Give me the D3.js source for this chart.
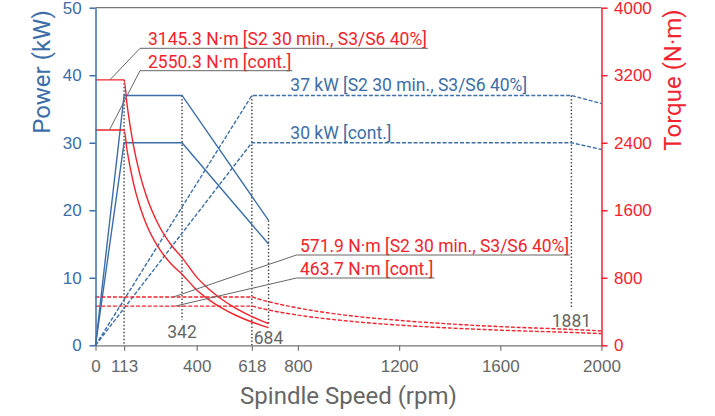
<!DOCTYPE html>
<html>
<head>
<meta charset="utf-8">
<script src="https://cdn.jsdelivr.net/npm/d3@7"></script>
<style>
  body { margin: 0; background: #fff; }
  svg { display: block; font-family: Roboto, "Liberation Sans", sans-serif; }
</style>
</head>
<body>
<svg width="715" height="416"></svg>
<script>
/* power curves (kW), low and high winding */
var rpmLow = [0, 113, 342, 684];
var powerS2Low = [0, 37, 37, 18.5];
var powerContLow = [0, 30, 30, 15];

var rpmHigh = [0, 618, 1881, 2000];
var powerS2High = [0, 37, 37, 35.8];
var powerContHigh = [0, 30, 30, 29.0];

/* torque curves (N·m) */
var rpmTorqueLow = [0, 113, 125, 150, 175, 200, 250, 300, 342, 400, 450, 500, 550, 600, 650, 684];
var torqueS2Low = [3145.3, 3145.3, 2843, 2370, 2031, 1777, 1422, 1185, 1039, 808, 661, 543, 447, 367, 299, 258];
var torqueContLow = [2550.3, 2550.3, 2306, 1921, 1647, 1441, 1153, 961, 843, 655, 536, 441, 362, 297, 242, 209];

var rpmTorqueHigh = [0, 618, 640, 700, 800, 1000, 1200, 1400, 1600, 1881, 2000];
var torqueS2High = [571.9, 571.9, 552, 505, 442, 353, 295, 253, 221, 188, 171];
var torqueContHigh = [463.7, 463.7, 448, 409, 358, 287, 239, 205, 179, 152, 139];

/* axis ticks */
var speedTicks = [0, 113, 400, 618, 800, 1200, 1600, 2000];
var powerTicks = [0, 10, 20, 30, 40, 50];
var torqueTicks = [0, 800, 1600, 2400, 3200, 4000];

/* notes */
var torqueNotes = ["3145.3 N·m [S2 30 min., S3/S6 40%]", "2550.3 N·m [cont.]",
                   "571.9 N·m [S2 30 min., S3/S6 40%]", "463.7 N·m [cont.]"];
var torqueNoteLevel = [3145.3, 2550.3, 571.9, 463.7];
var torqueNoteRpm = [57, 55, 307, 314];
var powerNotes = ["37 kW [S2 30 min., S3/S6 40%]", "30 kW [cont.]"];
var powerNoteLevel = [37, 30];
var powerNoteRpm = 770;

var blue = "#3c6ea8", red = "#f2232d", grey = "#666", dark = "#444";

var svg = d3.select("svg");
var width = +svg.attr("width");
var height = +svg.attr("height");
var margin = {top: 7.7, right: 113.5, bottom: 70.7, left: 95.5};

var x = d3.scaleLinear().domain([0, 2000]).range([margin.left, width - margin.right]);
var yP = d3.scaleLinear().domain([0, 50]).range([height - margin.bottom, margin.top]);
var yT = d3.scaleLinear().domain([0, 4000]).range([height - margin.bottom, margin.top]);

function zip(a, b) { return a.map(function(v, i) { return [v, b[i]]; }); }

var powerLine = d3.line().x(function(d) { return x(d[0]); }).y(function(d) { return yP(d[1]); });
var torqueLine = d3.line().curve(d3.curveMonotoneX)
    .x(function(d) { return x(d[0]); }).y(function(d) { return yT(d[1]); });

/* top frame line */
svg.append("line")
    .attr("x1", x(0)).attr("x2", x(2000))
    .attr("y1", yP(50)).attr("y2", yP(50))
    .attr("stroke", "#777").attr("stroke-width", 1.3);

/* dotted speed markers */
var markers = [
  {rpm: 113, top: yT(torqueS2Low[0]), bottom: yP(0), label: false},
  {rpm: 342, top: yP(powerS2Low[2]), bottom: 320, label: true, base: 337.5},
  {rpm: 618, top: yP(powerS2High[1]), bottom: yP(0), label: false},
  {rpm: 684, top: yP(powerS2Low[3]), bottom: 325, label: true, base: 343.5},
  {rpm: 1881, top: yP(powerS2High[2]), bottom: 309, label: true, base: 326.5}
];
svg.append("g").selectAll("line").data(markers).enter().append("line")
    .attr("x1", function(d) { return x(d.rpm); }).attr("x2", function(d) { return x(d.rpm); })
    .attr("y1", function(d) { return d.top; }).attr("y2", function(d) { return d.bottom; })
    .attr("stroke", dark).attr("stroke-width", 1.4).attr("stroke-dasharray", "1.5,2");
svg.append("g").selectAll("text").data(markers.filter(function(d) { return d.label; })).enter().append("text")
    .attr("x", function(d) { return x(d.rpm); }).attr("y", function(d) { return d.base; })
    .attr("text-anchor", "middle").attr("fill", grey).attr("font-size", 17.5)
    .text(function(d) { return d.rpm; });

/* power curves */
[[rpmLow, powerS2Low, null], [rpmLow, powerContLow, null],
 [rpmHigh, powerS2High, "4,1.8"], [rpmHigh, powerContHigh, "4,1.8"]].forEach(function(s) {
  svg.append("path")
      .datum(zip(s[0], s[1]))
      .attr("fill", "none").attr("stroke", blue).attr("stroke-width", 1.4)
      .attr("stroke-dasharray", s[2])
      .attr("d", powerLine);
});

/* torque curves */
[[rpmTorqueLow, torqueS2Low, null], [rpmTorqueLow, torqueContLow, null],
 [rpmTorqueHigh, torqueS2High, "4,1.8"], [rpmTorqueHigh, torqueContHigh, "4,1.8"]].forEach(function(s) {
  svg.append("path")
      .datum(zip(s[0], s[1]))
      .attr("fill", "none").attr("stroke", red).attr("stroke-width", 1.4)
      .attr("stroke-dasharray", s[2])
      .attr("d", torqueLine);
});

/* torque callouts with leader and underline */
var elbows = [[140, 48.3, 8], [140, 70.7, 8], [296.5, 255, 3.5], [296.5, 278, 3.5]];
torqueNotes.forEach(function(t, i) {
  var e = elbows[i];
  var txt = svg.append("text")
      .attr("x", e[0] + e[2]).attr("y", e[1] - 3)
      .attr("fill", red).attr("font-size", 17.5)
      .text(t);
  var end = e[0] + e[2] + txt.node().getComputedTextLength() + 1;
  svg.append("polyline")
      .attr("points", [[x(torqueNoteRpm[i]), yT(torqueNoteLevel[i])], [e[0], e[1]], [end, e[1]]].join(" "))
      .attr("fill", "none").attr("stroke", grey).attr("stroke-width", 1);
});

/* power labels */
powerNotes.forEach(function(t, i) {
  svg.append("text")
      .attr("x", x(powerNoteRpm)).attr("y", yP(powerNoteLevel[i]) - 4)
      .attr("fill", blue).attr("font-size", 17.5)
      .text(t);
});

/* axes */
var fmt = d3.format("d");
var gx = svg.append("g")
    .attr("transform", "translate(0," + yP(0) + ")")
    .call(d3.axisBottom(x).tickValues(speedTicks).tickFormat(fmt).tickSize(5.5).tickPadding(9).tickSizeOuter(0));
gx.select(".domain").attr("stroke", "#777").attr("stroke-width", 1.3);
gx.selectAll(".tick line").attr("stroke", "#777").attr("stroke-width", 1.2);
gx.selectAll("text").attr("fill", grey).attr("font-size", 17).attr("font-family", null);

var gl = svg.append("g")
    .attr("transform", "translate(" + x(0) + ",0)")
    .call(d3.axisLeft(yP).tickValues(powerTicks).tickFormat(fmt).tickSize(6).tickPadding(7.8).tickSizeOuter(0));
gl.select(".domain").attr("stroke", blue).attr("stroke-width", 1.5);
gl.selectAll(".tick line").attr("stroke", blue).attr("stroke-width", 1.5);
gl.selectAll("text").attr("fill", blue).attr("font-size", 17).attr("font-family", null);

var gr = svg.append("g")
    .attr("transform", "translate(" + x(2000) + ",0)")
    .call(d3.axisRight(yT).tickValues(torqueTicks).tickFormat(fmt).tickSize(6).tickPadding(6.5).tickSizeOuter(0));
gr.select(".domain").attr("stroke", red).attr("stroke-width", 1.5);
gr.selectAll(".tick line").attr("stroke", red).attr("stroke-width", 1.5);
gr.selectAll("text").attr("fill", red).attr("font-size", 17).attr("font-family", null);

/* axis titles */
svg.append("text")
    .attr("transform", "translate(50,72) rotate(-90)")
    .attr("text-anchor", "middle").attr("fill", blue).attr("font-size", 24)
    .text("Power (kW)");
svg.append("text")
    .attr("transform", "translate(680.5,80) rotate(-90)")
    .attr("text-anchor", "middle").attr("fill", red).attr("font-size", 24)
    .text("Torque (N·m)");
svg.append("text")
    .attr("x", (x(0) + x(2000)) / 2).attr("y", 403.5)
    .attr("text-anchor", "middle").attr("fill", grey).attr("font-size", 24)
    .text("Spindle Speed (rpm)");
</script>
</body>
</html>
